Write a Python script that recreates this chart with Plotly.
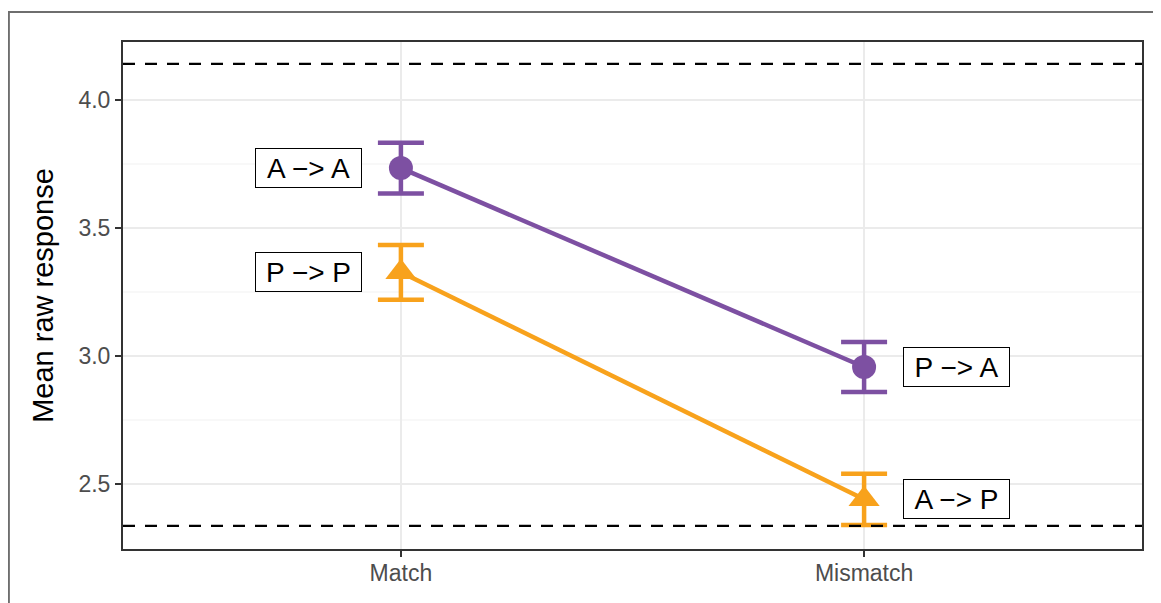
import plotly.graph_objects as go

conditions = ["Match", "Mismatch"]
purple_mean = [3.734, 2.957]
purple_se = [0.099, 0.098]
orange_mean = [3.327, 2.440]
orange_se = [0.107, 0.100]
purple_labels = ["A −> A", "P −> A"]
orange_labels = ["P −> P", "A −> P"]
ref_lines = [4.141, 2.336]
y_ticks = [2.5, 3.0, 3.5, 4.0]
y_tick_text = ["2.5", "3.0", "3.5", "4.0"]
minor_ticks = [2.75, 3.25, 3.75]
label_offsets = [-0.2, 0.2]

PURPLE = "#7D50A2"
ORANGE = "#F8A21C"
FONT = "Liberation Sans, Arial, sans-serif"

x_num = [1, 2]

fig = go.Figure()

for yv in ref_lines:
    fig.add_shape(type="line", xref="paper", x0=0, x1=1, y0=yv, y1=yv,
                  line=dict(color="black", width=2.3, dash="12px,10px"), layer="above")

for yv in minor_ticks:
    fig.add_shape(type="line", xref="paper", x0=0, x1=1, y0=yv, y1=yv,
                  line=dict(color="#F2F2F2", width=1.2), layer="below")

for means, ses, color, sym, size in [
    (purple_mean, purple_se, PURPLE, "circle", 24),
    (orange_mean, orange_se, ORANGE, "triangle-up", 27),
]:
    fig.add_trace(go.Scatter(
        x=x_num, y=means, mode="lines+markers",
        line=dict(color=color, width=4.5),
        marker=dict(color=color, symbol=sym, size=size),
        error_y=dict(type="data", array=ses, arrayminus=ses, color=color,
                     thickness=4.5, width=23),
        showlegend=False,
    ))

for means, labels in [(purple_mean, purple_labels), (orange_mean, orange_labels)]:
    for i in range(2):
        fig.add_annotation(
            x=x_num[i] + label_offsets[i], y=means[i], text=labels[i],
            showarrow=False, font=dict(family=FONT, size=28, color="black"),
            bgcolor="white", bordercolor="black", borderwidth=1, borderpad=0,
            width=105, height=38, align="center", valign="middle",
        )

# outer border (partially cropped)
fig.add_shape(type="rect", xref="paper", yref="paper",
              x0=-0.112, x1=1.2, y0=-0.2, y1=1.059,
              line=dict(color="#6E6E6E", width=2), layer="below")

fig.update_layout(
    width=1153, height=595,
    margin=dict(l=115, r=19, t=34, b=54),
    plot_bgcolor="white", paper_bgcolor="white",
    font=dict(family=FONT),
)
fig.update_xaxes(
    range=[0.4, 2.6], tickvals=x_num, ticktext=conditions,
    showgrid=True, gridcolor="#EBEBEB", gridwidth=2,
    showline=True, mirror=True, linecolor="#333333", linewidth=2,
    ticks="outside", ticklen=6, tickcolor="#333333", tickwidth=2,
    tickfont=dict(size=23, color="#4D4D4D"), zeroline=False,
    ticklabelstandoff=-4,
)
fig.update_yaxes(
    range=[2.246, 4.2266], tickvals=y_ticks, ticktext=y_tick_text,
    showgrid=True, gridcolor="#EBEBEB", gridwidth=2,
    showline=True, mirror=True, linecolor="#333333", linewidth=2,
    ticks="outside", ticklen=6, tickcolor="#333333", tickwidth=2,
    tickfont=dict(size=23, color="#4D4D4D"), zeroline=False,
    title=dict(text="Mean raw response", font=dict(size=29, color="black"), standoff=16),
)

fig.write_html("out.html")
